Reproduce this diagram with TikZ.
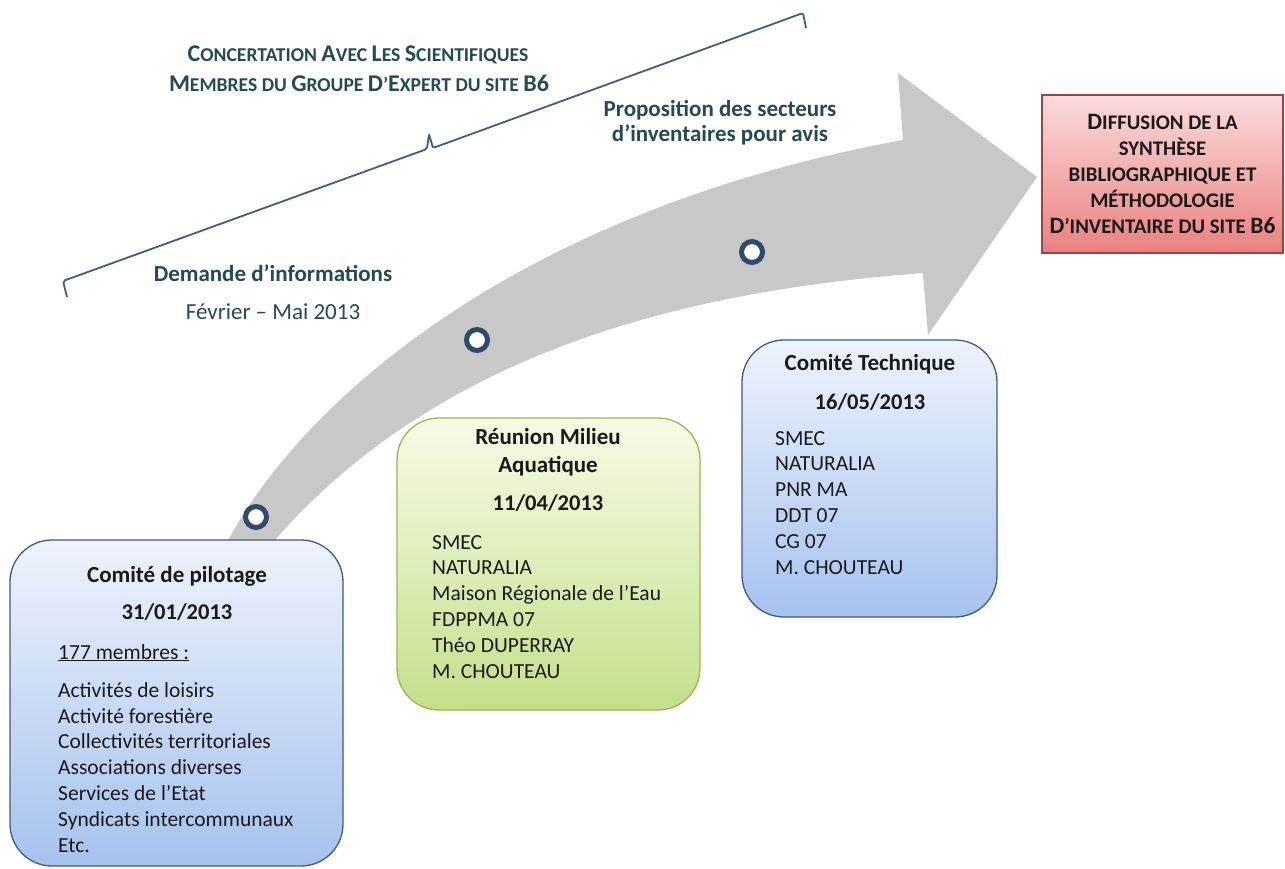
\documentclass[tikz,border=0pt]{standalone}
\usepackage{fontspec}
\setmainfont{Carlito}
\definecolor{arrowgray}{HTML}{C8C8C8}
\definecolor{ringblue}{HTML}{2F4A6B}
\definecolor{tealtext}{HTML}{264A52}
\definecolor{bluebord}{HTML}{3E5C80}
\definecolor{bluetop}{HTML}{EEF3FC}
\definecolor{bluebot}{HTML}{A6C2EE}
\definecolor{greenbord}{HTML}{9CB65A}
\definecolor{greentop}{HTML}{F7FBE6}
\definecolor{greenbot}{HTML}{C3E08A}
\definecolor{redbord}{HTML}{9A4545}
\definecolor{redtop}{HTML}{FBDCDC}
\definecolor{redbot}{HTML}{EA8080}
\definecolor{bracecol}{HTML}{3F5E7C}
\definecolor{boxtext}{HTML}{1A1A1A}
\newcommand\BigT[1]{{\fontsize{24}{24}\selectfont #1}}
\newcommand\BigR[1]{{\fontsize{23.5}{23.5}\selectfont #1}}
\begin{document}
\begin{tikzpicture}[x=1pt,y=-1pt,
  ringnode/.style={circle,draw=ringblue,line width=5pt,fill=white,minimum size=21pt,inner sep=0pt},
  bluebox/.style={rectangle,rounded corners=42pt,draw=bluebord,line width=1.3pt,top color=bluetop,bottom color=bluebot},
  greenbox/.style={rectangle,rounded corners=42pt,draw=greenbord,line width=1.3pt,top color=greentop,bottom color=greenbot},
  redbox/.style={rectangle,draw=redbord,line width=1.2pt,top color=redtop,bottom color=redbot,align=center,text=boxtext,font=\bfseries\fontsize{20.8}{25.8}\selectfont},
  titletext/.style={anchor=base,inner sep=0pt,text=boxtext,font=\bfseries\fontsize{23}{28}\selectfont},
  datetext/.style={anchor=base,inner sep=0pt,text=boxtext,font=\bfseries\fontsize{22.5}{27}\selectfont},
  listtext/.style={anchor=base west,inner sep=0pt,align=left,text=boxtext,font=\fontsize{21.5}{25.8}\selectfont},
  noteb/.style={anchor=base,inner sep=0pt,text=tealtext,font=\bfseries\fontsize{23}{27.5}\selectfont},
  noter/.style={anchor=base,inner sep=0pt,text=tealtext,font=\fontsize{23}{27.5}\selectfont},
  topnote/.style={anchor=base,inner sep=0pt,text=tealtext,font=\bfseries\fontsize{19.6}{30}\selectfont},
  bracestyle/.style={draw=bracecol,line width=1.8pt,rounded corners=2pt},
]
\useasboundingbox (0,0) rectangle (1285,869);
\fill[white] (0,0) rectangle (1285,869);

% big curved arrow
\fill[arrowgray] (224,548) .. controls (300,400) and (520,210) .. (903,140)
  -- (898,73) -- (1037,177) -- (928,335) -- (923,273)
  .. controls (700,290) and (440,345) .. (268,548) -- cycle;

% brace
\draw[bracestyle] (67,297) -- (63,281) -- (427,149) -- (429,134) -- (433,148) -- (803,13) -- (806,28);

% top texts
\node[topnote] (conc1) at (358,62) {\BigT{C}ONCERTATION \BigT{A}VEC \BigT{L}ES \BigT{S}CIENTIFIQUES};
\node[topnote] (conc2) at (359,92) {\BigT{M}EMBRES DU \BigT{G}ROUPE \BigT{D}’\BigT{E}XPERT DU SITE \BigT{B6}};
\node[noteb] (prop1) at (720,117) {Proposition des secteurs};
\node[noteb] (prop2) at (720,142) {d’inventaires pour avis};
\node[noteb] (dem) at (273,281) {Demande d’informations};
\node[noter] (fev) at (273,319) {Février – Mai 2013};

% boxes
\node[bluebox,minimum width=333pt,minimum height=326pt] (pil) at (176.5,703) {};
\node[greenbox,minimum width=303pt,minimum height=292pt] (aqua) at (548.5,564) {};
\node[bluebox,minimum width=255pt,minimum height=277pt] (tech) at (869.5,478.5) {};
\node[redbox,minimum width=241pt,minimum height=158pt] (diff) at (1162.5,174)
  {\BigR{D}IFFUSION DE LA\\SYNTHÈSE\\BIBLIOGRAPHIQUE ET\\MÉTHODOLOGIE\\\BigR{D}’INVENTAIRE DU SITE \BigR{B6}};

% rings
\node[ringnode] (c1) at (256,517) {};
\node[ringnode] (c2) at (477,340) {};
\node[ringnode] (c3) at (752,252) {};

% box 1 text (base anchor = last line)
\node[titletext] (pilt) at (177,582) {Comité de pilotage};
\node[datetext] (pild) at (177,619) {31/01/2013};
\node[listtext] (pilm) at (58,659) {\underline{177 membres :}};
\node[listtext] (pill) at (58,852) {Activités de loisirs\\Activité forestière\\Collectivités territoriales\\Associations diverses\\Services de l’Etat\\Syndicats intercommunaux\\Etc.};

% box 2 text
\node[titletext] (aqt1) at (548,444) {Réunion Milieu};
\node[titletext] (aqt2) at (548,472) {Aquatique};
\node[datetext] (aqd) at (548,510) {11/04/2013};
\node[listtext] (aql) at (432,678) {SMEC\\NATURALIA\\Maison Régionale de l’Eau\\FDPPMA 07\\Théo DUPERRAY\\M. CHOUTEAU};

% box 3 text
\node[titletext] (tet) at (870,370) {Comité Technique};
\node[datetext] (ted) at (870,409) {16/05/2013};
\node[listtext] (tel) at (775,574) {SMEC\\NATURALIA\\PNR MA\\DDT 07\\CG 07\\M. CHOUTEAU};
\end{tikzpicture}
\end{document}
